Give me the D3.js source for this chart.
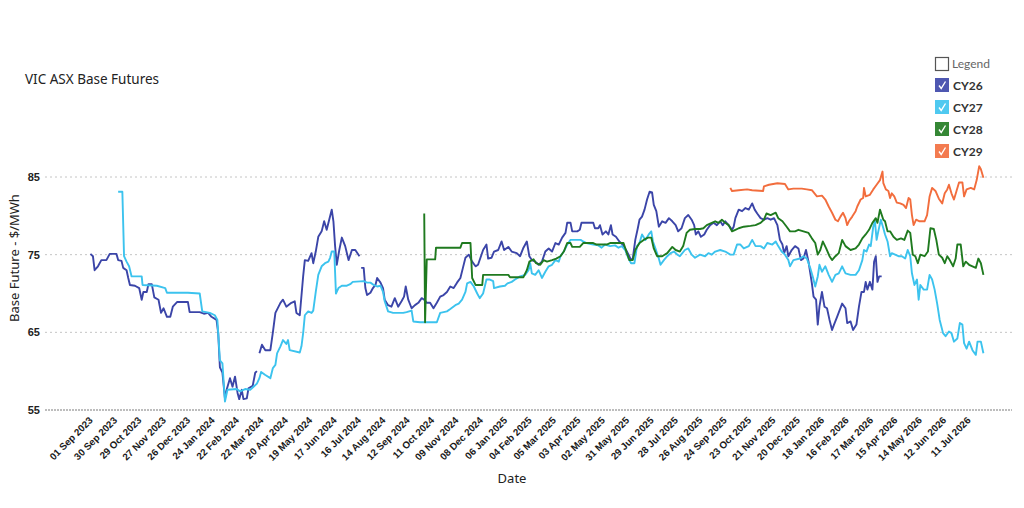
<!DOCTYPE html>
<html>
<head>
<meta charset="utf-8">
<script src="https://cdn.jsdelivr.net/npm/d3@7"></script>
<style>
body { margin: 0; background: #fff; }
svg { display: block; }
.series { fill: none; stroke-width: 1.9; stroke-linejoin: round; }
</style>
</head>
<body>
<script>
const WIDTH = 1024;
const HEIGHT = 508;
const PLOT_LEFT = 45;
const PLOT_RIGHT = 1012;
const PLOT_TOP = 177;
const PLOT_BOTTOM = 410;

// chart values: [date, $/MWh]
const seriesNames = ["CY26", "CY27", "CY28", "CY29"];
const seriesColors = ["#3b45a8", "#3cc3ee", "#1f7a1f", "#f26d3d"];
const yTicks = [55, 65, 75, 85];
const xTickDates = ["2023-09-01","2023-09-30","2023-10-29","2023-11-27","2023-12-26","2024-01-24","2024-02-22","2024-03-22","2024-04-20","2024-05-19","2024-06-17","2024-07-16","2024-08-14","2024-09-12","2024-10-11","2024-11-09","2024-12-08","2025-01-06","2025-02-04","2025-03-05","2025-04-03","2025-05-02","2025-05-31","2025-06-29","2025-07-28","2025-08-26","2025-09-24","2025-10-23","2025-11-21","2025-12-20","2026-01-18","2026-02-16","2026-03-17","2026-04-15","2026-05-14","2026-06-12","2026-07-11"];

const cy26 = [["2023-09-01",75.1],["2023-09-04",74.8],["2023-09-06",73.0],["2023-09-10",73.5],["2023-09-14",74.3],["2023-09-20",74.3],["2023-09-24",75.1],["2023-10-02",75.1],["2023-10-04",74.3],["2023-10-08",74.2],["2023-10-10",73.3],["2023-10-14",73.0],["2023-10-16",72.0],["2023-10-18",71.1],["2023-10-24",71.0],["2023-10-29",70.7],["2023-11-01",69.2],["2023-11-03",70.2],["2023-11-07",70.2],["2023-11-09",71.2],["2023-11-13",71.2],["2023-11-16",69.5],["2023-11-21",69.2],["2023-11-24",67.5],["2023-11-27",68.1],["2023-12-01",67.0],["2023-12-05",67.0],["2023-12-08",68.3],["2023-12-13",68.9],["2023-12-26",68.9],["2023-12-28",67.6],["2024-01-09",67.6],["2024-01-14",67.4],["2024-01-19",67.5],["2024-01-23",67.0],["2024-01-29",66.6],["2024-01-31",64.9],["2024-02-02",60.5],["2024-02-05",59.8],["2024-02-08",56.5],["2024-02-10",57.6],["2024-02-14",59.1],["2024-02-17",58.0],["2024-02-20",59.3],["2024-02-23",57.2],["2024-02-25",56.4],["2024-02-28",57.6],["2024-03-01",56.4],["2024-03-05",56.5],["2024-03-07",57.8],["2024-03-12",58.1],["2024-03-15",59.8],["2024-03-17",60.0],["2024-03-18",null],["2024-03-20",62.3],["2024-03-23",63.4],["2024-03-27",62.7],["2024-04-02",62.7],["2024-04-05",65.0],["2024-04-08",67.5],["2024-04-14",68.8],["2024-04-17",69.2],["2024-04-21",68.3],["2024-04-27",68.8],["2024-05-01",69.0],["2024-05-03",67.5],["2024-05-07",67.2],["2024-05-11",72.2],["2024-05-13",74.3],["2024-05-17",74.2],["2024-05-21",75.2],["2024-05-23",73.9],["2024-05-26",75.4],["2024-05-29",77.3],["2024-06-02",78.0],["2024-06-05",79.3],["2024-06-08",78.2],["2024-06-11",79.5],["2024-06-14",80.8],["2024-06-16",79.3],["2024-06-18",76.1],["2024-06-20",73.7],["2024-06-23",75.6],["2024-06-26",77.2],["2024-06-30",76.1],["2024-07-04",74.3],["2024-07-08",75.6],["2024-07-12",75.6],["2024-07-17",74.8],["2024-07-18",null],["2024-07-19",73.3],["2024-07-22",73.3],["2024-07-24",70.7],["2024-07-26",69.8],["2024-07-30",70.1],["2024-08-02",70.7],["2024-08-05",71.1],["2024-08-07",72.0],["2024-08-11",71.4],["2024-08-14",70.7],["2024-08-16",69.2],["2024-08-20",68.5],["2024-08-24",68.3],["2024-08-28",69.4],["2024-09-01",68.3],["2024-09-05",69.0],["2024-09-08",69.6],["2024-09-10",70.9],["2024-09-13",69.2],["2024-09-17",68.1],["2024-09-21",68.5],["2024-09-25",68.8],["2024-09-29",69.4],["2024-10-02",69.2],["2024-10-05",68.8],["2024-10-09",68.8],["2024-10-13",68.1],["2024-10-17",68.8],["2024-10-21",69.6],["2024-10-25",69.8],["2024-10-29",70.2],["2024-11-02",70.9],["2024-11-06",70.7],["2024-11-10",71.4],["2024-11-14",72.0],["2024-11-17",73.3],["2024-11-20",74.6],["2024-11-24",75.0],["2024-11-28",74.1],["2024-12-02",73.5],["2024-12-05",73.7],["2024-12-11",75.6],["2024-12-15",76.3],["2024-12-17",74.5],["2024-12-21",74.6],["2024-12-24",75.4],["2024-12-29",75.6],["2025-01-02",76.7],["2025-01-05",75.6],["2025-01-10",76.0],["2025-01-14",75.4],["2025-01-20",75.2],["2025-01-24",74.8],["2025-01-28",75.9],["2025-02-01",76.7],["2025-02-04",74.8],["2025-02-07",74.3],["2025-02-11",74.1],["2025-02-15",73.7],["2025-02-19",74.1],["2025-02-23",75.4],["2025-02-27",75.8],["2025-03-03",75.4],["2025-03-07",76.5],["2025-03-11",76.3],["2025-03-15",77.2],["2025-03-19",77.8],["2025-03-21",79.1],["2025-03-25",79.1],["2025-03-27",78.0],["2025-04-02",78.0],["2025-04-05",78.2],["2025-04-07",79.1],["2025-04-21",79.1],["2025-04-23",78.4],["2025-04-27",78.4],["2025-04-29",78.8],["2025-05-02",77.6],["2025-05-06",78.0],["2025-05-09",77.6],["2025-05-12",78.8],["2025-05-14",77.6],["2025-05-18",77.3],["2025-05-22",76.7],["2025-05-26",76.3],["2025-05-30",75.6],["2025-06-02",75.0],["2025-06-05",74.3],["2025-06-07",74.5],["2025-06-10",76.9],["2025-06-13",78.4],["2025-06-15",79.5],["2025-06-18",79.9],["2025-06-21",80.8],["2025-06-24",82.1],["2025-06-27",83.1],["2025-06-30",83.0],["2025-07-02",81.4],["2025-07-05",80.6],["2025-07-08",78.6],["2025-07-12",79.3],["2025-07-16",79.1],["2025-07-20",79.7],["2025-07-24",79.3],["2025-07-28",78.8],["2025-07-31",78.0],["2025-08-04",78.4],["2025-08-08",79.7],["2025-08-12",80.1],["2025-08-16",79.5],["2025-08-19",78.8],["2025-08-21",77.6],["2025-08-24",78.0],["2025-08-27",77.3],["2025-08-31",77.6],["2025-09-03",78.2],["2025-09-07",78.8],["2025-09-11",79.1],["2025-09-15",78.8],["2025-09-19",79.3],["2025-09-22",78.8],["2025-09-25",79.3],["2025-09-29",78.8],["2025-10-03",78.2],["2025-10-05",78.6],["2025-10-07",79.7],["2025-10-11",80.8],["2025-10-15",80.6],["2025-10-19",81.0],["2025-10-23",80.8],["2025-10-27",81.6],["2025-10-30",80.8],["2025-11-02",80.3],["2025-11-06",79.7],["2025-11-10",79.5],["2025-11-14",79.7],["2025-11-18",79.5],["2025-11-22",79.7],["2025-11-26",78.8],["2025-11-29",76.9],["2025-12-02",76.3],["2025-12-04",75.2],["2025-12-07",76.1],["2025-12-09",74.8],["2025-12-13",75.6],["2025-12-17",76.1],["2025-12-21",75.8],["2025-12-24",74.3],["2025-12-27",74.5],["2025-12-30",75.6],["2026-01-02",74.1],["2026-01-06",71.3],["2026-01-08",69.6],["2026-01-11",69.2],["2026-01-13",66.0],["2026-01-15",68.3],["2026-01-18",70.2],["2026-01-21",68.3],["2026-01-24",68.1],["2026-01-27",66.6],["2026-01-30",65.3],["2026-02-01",65.9],["2026-02-05",67.0],["2026-02-11",68.7],["2026-02-15",68.1],["2026-02-17",66.2],["2026-02-21",66.4],["2026-02-24",65.3],["2026-02-28",66.0],["2026-03-03",68.3],["2026-03-06",70.2],["2026-03-09",70.2],["2026-03-11",71.5],["2026-03-13",70.5],["2026-03-16",71.5],["2026-03-19",70.5],["2026-03-21",74.1],["2026-03-23",74.8],["2026-03-25",71.5],["2026-03-27",72.2],["2026-03-30",72.2]];

const cy27 = [["2023-10-04",83.1],["2023-10-09",83.1],["2023-10-11",74.8],["2023-10-14",74.1],["2023-10-17",73.5],["2023-10-20",72.2],["2023-11-01",72.2],["2023-11-02",71.1],["2023-11-19",71.0],["2023-11-29",70.7],["2023-12-01",70.1],["2023-12-26",70.1],["2024-01-09",70.0],["2024-01-12",67.7],["2024-01-21",67.5],["2024-01-27",67.2],["2024-01-30",66.6],["2024-02-02",61.4],["2024-02-05",61.0],["2024-02-08",56.1],["2024-02-11",57.6],["2024-02-22",57.7],["2024-02-26",57.4],["2024-03-03",57.7],["2024-03-09",57.6],["2024-03-13",58.0],["2024-03-17",58.4],["2024-03-20",59.1],["2024-03-22",59.9],["2024-03-27",59.5],["2024-04-02",59.1],["2024-04-05",60.4],["2024-04-08",60.8],["2024-04-10",62.3],["2024-04-14",63.2],["2024-04-17",64.0],["2024-04-21",63.5],["2024-04-23",64.0],["2024-04-25",62.7],["2024-05-07",62.4],["2024-05-09",63.2],["2024-05-11",64.9],["2024-05-13",67.2],["2024-05-17",67.7],["2024-05-21",67.5],["2024-05-23",67.8],["2024-05-26",70.2],["2024-05-29",72.4],["2024-06-02",73.5],["2024-06-06",73.9],["2024-06-10",74.1],["2024-06-12",74.6],["2024-06-14",75.4],["2024-06-17",75.4],["2024-06-19",70.0],["2024-06-22",70.7],["2024-06-26",71.0],["2024-07-02",71.0],["2024-07-06",71.2],["2024-07-09",71.5],["2024-07-22",71.6],["2024-07-26",71.4],["2024-07-30",71.4],["2024-08-03",71.1],["2024-08-07",70.9],["2024-08-11",71.0],["2024-08-14",70.2],["2024-08-16",69.0],["2024-08-20",67.7],["2024-08-26",67.5],["2024-09-07",67.5],["2024-09-11",67.6],["2024-09-17",67.8],["2024-09-19",66.4],["2024-09-27",66.3],["2024-10-17",66.3],["2024-10-21",67.5],["2024-10-29",67.7],["2024-11-02",68.0],["2024-11-08",68.5],["2024-11-12",68.7],["2024-11-16",69.2],["2024-11-20",70.2],["2024-11-22",71.3],["2024-11-26",71.5],["2024-11-30",70.9],["2024-12-04",70.0],["2024-12-07",69.4],["2024-12-11",70.0],["2024-12-15",71.8],["2024-12-19",71.8],["2024-12-23",71.6],["2024-12-24",70.7],["2024-12-31",70.9],["2025-01-06",71.0],["2025-01-09",71.3],["2025-01-14",71.5],["2025-01-18",71.8],["2025-01-24",72.2],["2025-01-30",72.4],["2025-02-03",73.0],["2025-02-05",73.9],["2025-02-07",72.6],["2025-02-11",72.4],["2025-02-15",73.0],["2025-02-19",72.0],["2025-02-23",72.8],["2025-02-27",73.5],["2025-03-03",73.7],["2025-03-07",74.3],["2025-03-11",74.1],["2025-03-13",74.8],["2025-03-17",75.4],["2025-03-21",76.3],["2025-03-25",76.9],["2025-04-06",76.9],["2025-04-09",76.7],["2025-04-13",76.5],["2025-04-21",76.3],["2025-04-27",76.2],["2025-05-01",75.9],["2025-05-05",76.3],["2025-05-11",76.1],["2025-05-17",76.2],["2025-05-21",75.9],["2025-05-25",76.1],["2025-05-29",75.6],["2025-06-02",74.5],["2025-06-05",73.9],["2025-06-09",73.9],["2025-06-12",76.1],["2025-06-15",76.5],["2025-06-18",77.6],["2025-06-22",76.9],["2025-06-26",77.6],["2025-06-29",78.0],["2025-07-01",76.7],["2025-07-04",75.8],["2025-07-08",74.5],["2025-07-10",73.7],["2025-07-14",74.3],["2025-07-18",74.8],["2025-07-22",75.2],["2025-07-26",75.4],["2025-07-30",75.0],["2025-08-02",74.8],["2025-08-08",75.6],["2025-08-12",75.8],["2025-08-16",75.0],["2025-08-20",74.6],["2025-08-26",75.0],["2025-09-01",74.8],["2025-09-05",75.2],["2025-09-09",75.0],["2025-09-13",75.4],["2025-09-19",75.6],["2025-09-25",75.4],["2025-10-01",75.0],["2025-10-05",75.0],["2025-10-09",76.3],["2025-10-13",76.3],["2025-10-17",75.8],["2025-10-23",76.1],["2025-10-27",76.9],["2025-10-31",76.1],["2025-11-06",76.1],["2025-11-10",75.8],["2025-11-14",76.5],["2025-11-20",76.3],["2025-11-24",76.7],["2025-11-27",76.1],["2025-12-01",75.4],["2025-12-05",75.0],["2025-12-09",74.3],["2025-12-11",73.5],["2025-12-15",74.3],["2025-12-23",74.5],["2025-12-27",74.8],["2025-12-31",74.5],["2026-01-04",73.3],["2026-01-07",72.2],["2026-01-10",70.9],["2026-01-13",72.2],["2026-01-15",73.7],["2026-01-18",72.8],["2026-01-22",73.5],["2026-01-26",72.4],["2026-01-30",71.5],["2026-02-03",72.4],["2026-02-07",72.6],["2026-02-11",73.5],["2026-02-15",72.6],["2026-02-21",72.4],["2026-02-27",72.4],["2026-03-03",73.0],["2026-03-07",74.3],["2026-03-09",75.6],["2026-03-12",75.4],["2026-03-15",76.3],["2026-03-17",76.1],["2026-03-20",78.6],["2026-03-22",79.3],["2026-03-24",76.9],["2026-03-26",78.0],["2026-03-29",79.5],["2026-04-01",78.4],["2026-04-03",77.6],["2026-04-06",76.7],["2026-04-09",74.8],["2026-04-11",75.2],["2026-04-15",75.0],["2026-04-19",74.8],["2026-04-23",74.8],["2026-04-27",74.5],["2026-04-30",75.6],["2026-05-03",74.8],["2026-05-05",72.6],["2026-05-08",71.1],["2026-05-11",71.8],["2026-05-13",69.2],["2026-05-15",71.1],["2026-05-19",70.5],["2026-05-23",70.5],["2026-05-26",72.4],["2026-05-29",71.8],["2026-06-01",70.5],["2026-06-04",68.7],["2026-06-07",66.6],["2026-06-11",64.9],["2026-06-14",64.5],["2026-06-18",65.1],["2026-06-21",64.9],["2026-06-24",63.8],["2026-06-28",64.2],["2026-07-01",66.2],["2026-07-04",66.0],["2026-07-06",63.6],["2026-07-09",62.9],["2026-07-12",63.8],["2026-07-16",62.7],["2026-07-20",62.1],["2026-07-22",63.8],["2026-07-26",63.8],["2026-07-29",62.3]];

const cy28 = [["2024-10-02",80.3],["2024-10-03",66.3],["2024-10-05",74.4],["2024-10-15",74.4],["2024-10-16",75.9],["2024-11-14",75.9],["2024-11-16",76.5],["2024-11-26",76.5],["2024-11-28",72.0],["2024-12-02",71.1],["2024-12-10",71.1],["2024-12-11",72.4],["2025-01-10",72.4],["2025-01-12",72.1],["2025-01-28",72.1],["2025-02-01",73.0],["2025-02-04",74.1],["2025-02-09",74.4],["2025-02-12",73.9],["2025-02-17",73.7],["2025-02-21",74.3],["2025-02-25",74.1],["2025-03-03",74.3],["2025-03-08",74.5],["2025-03-13",74.8],["2025-03-17",75.4],["2025-03-21",76.5],["2025-03-25",76.5],["2025-03-27",76.0],["2025-04-05",76.0],["2025-04-09",76.5],["2025-04-21",76.5],["2025-04-25",76.3],["2025-05-07",76.3],["2025-05-11",76.5],["2025-05-27",76.5],["2025-05-31",75.2],["2025-06-03",74.3],["2025-06-07",74.3],["2025-06-10",75.6],["2025-06-15",76.5],["2025-06-20",76.9],["2025-06-25",77.2],["2025-06-29",77.2],["2025-07-02",75.8],["2025-07-06",74.8],["2025-07-12",74.8],["2025-07-18",75.2],["2025-07-24",76.0],["2025-07-28",75.6],["2025-08-02",75.4],["2025-08-06",76.1],["2025-08-10",77.8],["2025-08-14",78.2],["2025-08-20",78.3],["2025-08-26",78.3],["2025-08-30",78.4],["2025-09-03",78.8],["2025-09-09",79.1],["2025-09-13",79.3],["2025-09-17",79.1],["2025-09-21",79.5],["2025-09-25",79.1],["2025-09-29",78.8],["2025-10-03",78.0],["2025-10-07",78.2],["2025-10-11",78.4],["2025-10-17",78.6],["2025-10-25",78.7],["2025-10-31",78.8],["2025-11-06",79.1],["2025-11-10",79.5],["2025-11-13",80.3],["2025-11-18",80.1],["2025-11-24",80.4],["2025-11-27",79.7],["2025-12-02",79.3],["2025-12-07",78.6],["2025-12-11",78.0],["2025-12-17",78.0],["2025-12-21",78.2],["2025-12-27",78.0],["2026-01-02",77.8],["2026-01-06",77.1],["2026-01-10",76.5],["2026-01-13",75.0],["2026-01-16",75.6],["2026-01-19",76.7],["2026-01-23",75.8],["2026-01-27",74.8],["2026-01-30",74.3],["2026-02-03",74.8],["2026-02-07",75.2],["2026-02-11",76.9],["2026-02-15",76.1],["2026-02-21",75.6],["2026-02-27",75.8],["2026-03-03",76.3],["2026-03-07",77.1],["2026-03-11",77.6],["2026-03-15",78.2],["2026-03-19",79.1],["2026-03-23",79.7],["2026-03-25",79.1],["2026-03-28",80.8],["2026-04-01",79.5],["2026-04-03",79.3],["2026-04-06",78.0],["2026-04-09",78.0],["2026-04-13",77.3],["2026-04-17",76.9],["2026-04-22",77.1],["2026-04-26",76.9],["2026-04-30",78.1],["2026-05-03",77.8],["2026-05-06",75.0],["2026-05-09",74.8],["2026-05-12",73.9],["2026-05-15",75.0],["2026-05-20",74.8],["2026-05-24",75.4],["2026-05-27",78.4],["2026-05-31",78.3],["2026-06-03",76.9],["2026-06-06",75.0],["2026-06-10",74.6],["2026-06-13",73.9],["2026-06-16",74.8],["2026-06-19",74.3],["2026-06-23",73.5],["2026-06-26",74.5],["2026-06-28",76.3],["2026-07-02",76.3],["2026-07-05",73.5],["2026-07-08",74.1],["2026-07-12",73.7],["2026-07-16",73.5],["2026-07-20",73.3],["2026-07-23",74.5],["2026-07-26",73.9],["2026-07-29",72.4]];

const cy29 = [["2025-10-01",83.6],["2025-10-03",83.2],["2025-10-11",83.3],["2025-10-21",83.4],["2025-10-27",83.3],["2025-11-09",83.2],["2025-11-10",83.8],["2025-11-16",84.0],["2025-11-26",84.2],["2025-12-05",84.1],["2025-12-09",83.4],["2025-12-15",83.5],["2025-12-25",83.5],["2025-12-31",83.4],["2026-01-06",83.3],["2026-01-12",82.5],["2026-01-18",82.6],["2026-01-22",82.1],["2026-01-26",81.2],["2026-01-30",80.4],["2026-02-03",79.5],["2026-02-06",79.3],["2026-02-09",79.9],["2026-02-12",80.4],["2026-02-15",79.7],["2026-02-17",78.8],["2026-02-19",79.3],["2026-02-23",79.9],["2026-02-27",80.6],["2026-03-01",81.2],["2026-03-05",82.1],["2026-03-08",82.3],["2026-03-09",83.6],["2026-03-11",82.5],["2026-03-16",82.7],["2026-03-20",83.4],["2026-03-24",84.0],["2026-03-28",84.6],["2026-03-31",85.7],["2026-04-01",84.2],["2026-04-04",83.4],["2026-04-07",83.2],["2026-04-09",82.3],["2026-04-11",82.9],["2026-04-14",82.5],["2026-04-17",81.7],["2026-04-21",81.6],["2026-04-25",81.4],["2026-04-28",81.0],["2026-05-01",82.3],["2026-05-03",82.1],["2026-05-05",80.1],["2026-05-07",78.8],["2026-05-10",79.5],["2026-05-14",79.3],["2026-05-20",79.3],["2026-05-23",80.1],["2026-05-26",82.5],["2026-05-29",83.6],["2026-06-02",83.2],["2026-06-06",82.2],["2026-06-10",81.6],["2026-06-13",82.9],["2026-06-16",83.4],["2026-06-18",84.0],["2026-06-21",82.9],["2026-06-24",82.1],["2026-06-27",83.2],["2026-06-30",84.3],["2026-07-04",84.3],["2026-07-06",82.5],["2026-07-09",83.4],["2026-07-14",83.6],["2026-07-18",83.4],["2026-07-21",84.6],["2026-07-24",86.4],["2026-07-26",86.0],["2026-07-29",84.9]];

const seriesData = [cy26, cy27, cy28, cy29];

var parseDate = d3.timeParse("%Y-%m-%d");
var _xScale, _yScale, _svg;

var createSvg = function(){
	_svg = d3.select('body')
		.append('svg')
		.attr('width', WIDTH)
		.attr('height', HEIGHT)
		.style('font-family', 'Lato, "Noto Sans", sans-serif');

	_xScale = d3.scaleTime()
		.domain([parseDate("2023-07-09"), parseDate("2026-09-01")])
		.range([PLOT_LEFT, PLOT_RIGHT]);
	_yScale = d3.scaleLinear().domain([55, 85]).range([PLOT_BOTTOM, PLOT_TOP]);
}

var drawGrid = function(){
	_svg.append('g')
		.selectAll('line')
		.data(yTicks)
		.enter()
		.append('line')
		.attr('x1', PLOT_LEFT)
		.attr('x2', PLOT_RIGHT)
		.attr('y1', function(d){ return _yScale(d) })
		.attr('y2', function(d){ return _yScale(d) })
		.attr('stroke', function(d){ return d == 55 ? '#a8a8a8' : '#c4c4c4' })
		.attr('stroke-width', function(d){ return d == 55 ? 1.3 : 1 })
		.attr('stroke-dasharray', function(d){ return d == 55 ? '2,1' : '2,3' });
}

var drawAxes = function(){
	var xAxis = d3.axisBottom(_xScale)
		.tickValues(xTickDates.map(parseDate))
		.tickFormat(d3.timeFormat('%d %b %Y'))
		.tickSize(0);
	var gx = _svg.append('g')
		.attr('transform', 'translate(0,' + PLOT_BOTTOM + ')')
		.call(xAxis);
	gx.select('.domain').remove();
	gx.selectAll('text')
		.attr('y', 0)
		.attr('dy', 0)
		.attr('transform', 'translate(2.5,11) rotate(-45)')
		.style('text-anchor', 'end')
		.style('font-size', '9.8px')
		.style('font-weight', 'bold')
		.style('fill', '#1a1a1a');

	var yAxis = d3.axisLeft(_yScale).tickValues(yTicks).tickSize(0).tickPadding(5);
	var gy = _svg.append('g')
		.attr('transform', 'translate(' + PLOT_LEFT + ',0)')
		.call(yAxis);
	gy.select('.domain').remove();
	gy.selectAll('text')
		.style('font-size', '11px')
		.style('font-weight', 'bold')
		.style('fill', '#222');

	_svg.append('text')
		.attr('transform', 'translate(19,258) rotate(-90)')
		.attr('text-anchor', 'middle')
		.style('font-family', '"Noto Sans", sans-serif')
		.style('font-size', '13px')
		.style('fill', '#222')
		.text('Base Future -  $/MWh');

	_svg.append('text')
		.attr('x', 512)
		.attr('y', 483)
		.attr('text-anchor', 'middle')
		.style('font-family', '"Noto Sans", sans-serif')
		.style('font-size', '13px')
		.style('fill', '#222')
		.text('Date');

	_svg.append('text')
		.attr('x', 25)
		.attr('y', 84)
		.style('font-family', '"Noto Sans", sans-serif')
		.style('font-size', '13.5px')
		.style('fill', '#222')
		.text('VIC ASX Base Futures');
}

var drawLines = function(){
	var line = d3.line()
		.defined(function(d){ return d[1] != null })
		.x(function(d){ return _xScale(parseDate(d[0])) })
		.y(function(d){ return _yScale(d[1]) });

	_svg.append('g')
		.selectAll('path')
		.data(seriesData)
		.enter()
		.append('path')
		.classed('series', true)
		.attr('stroke', function(d, i){ return seriesColors[i] })
		.attr('d', line);
}

var drawLegend = function(){
	var legend = _svg.append('g').attr('transform', 'translate(935,57)');
	legend.append('rect')
		.attr('x', 0.5).attr('y', 0.5)
		.attr('width', 13).attr('height', 13)
		.attr('fill', '#fff')
		.attr('stroke', '#555')
		.attr('stroke-width', 1.2);
	legend.append('text')
		.attr('x', 17).attr('y', 11)
		.style('font-size', '12px')
		.style('fill', '#666')
		.text('Legend');

	var items = legend.selectAll('g.item')
		.data(seriesNames)
		.enter()
		.append('g')
		.classed('item', true)
		.attr('transform', function(d, i){ return 'translate(0,' + (21 + i * 22) + ')' });
	items.append('rect')
		.attr('width', 14).attr('height', 14)
		.attr('fill', function(d, i){ return seriesColors[i] })
		.attr('opacity', 0.9);
	items.append('path')
		.attr('d', 'M4,7.5 L6.2,10.5 L10.5,3.5')
		.attr('fill', 'none')
		.attr('stroke', '#fff')
		.attr('stroke-width', 1.4);
	items.append('text')
		.attr('x', 18).attr('y', 11.5)
		.style('font-size', '12px')
		.style('font-weight', 'bold')
		.style('fill', '#333')
		.text(function(d){ return d });
}

window.onload = function(){
	createSvg();
	drawGrid();
	drawAxes();
	drawLines();
	drawLegend();
}
</script>
</body>
</html>
